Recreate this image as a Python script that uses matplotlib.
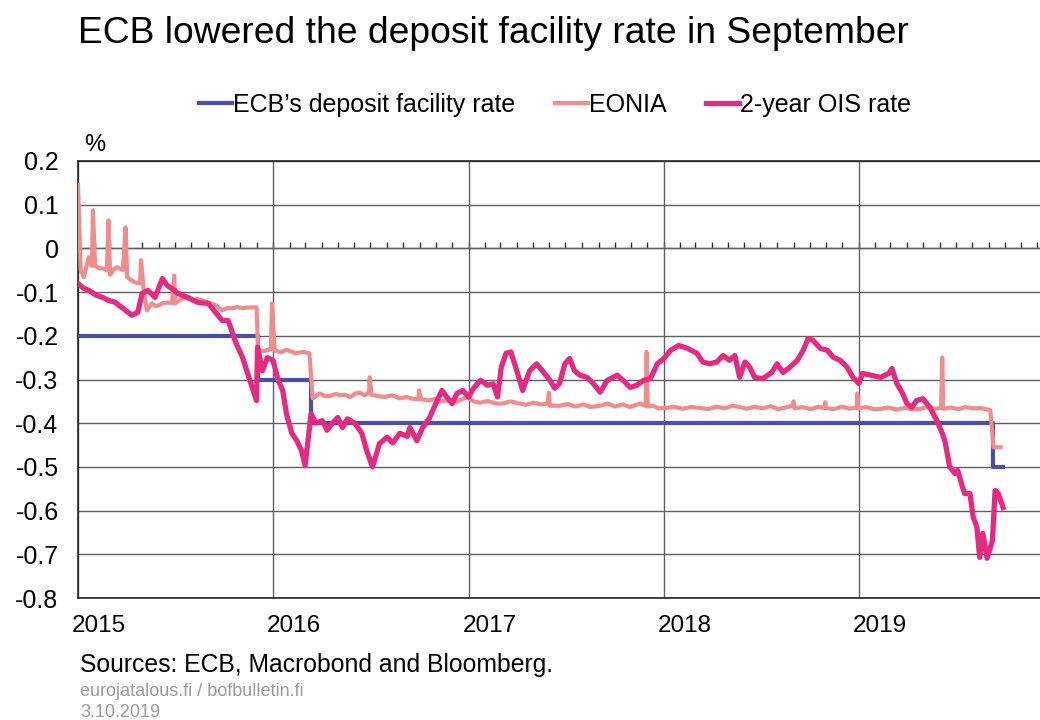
import pandas as pd
import matplotlib
matplotlib.use('Agg')
from matplotlib import pyplot as plt
import matplotlib.dates as mdates
import matplotlib.transforms as mtransforms

plt.rcParams['font.family'] = ['Liberation Sans', 'DejaVu Sans']

# ECB deposit facility rate (step series)
dfr_dates = ['2015-01-01', '2015-12-03', '2016-03-12', '2019-09-09', '2019-09-28']
dfr_values = [-0.20, -0.30, -0.40, -0.50, -0.50]

# EONIA
eonia_dates = [
    '2015-01-01', '2015-01-06', '2015-01-12', '2015-01-21', '2015-01-27', '2015-01-29',
    '2015-02-02', '2015-02-09', '2015-02-16', '2015-02-24', '2015-02-27', '2015-03-02',
    '2015-03-09', '2015-03-15', '2015-03-26', '2015-03-31', '2015-04-03', '2015-04-10',
    '2015-04-18', '2015-04-27', '2015-04-29', '2015-05-04', '2015-05-10', '2015-05-19',
    '2015-05-26', '2015-06-01', '2015-06-09', '2015-06-17', '2015-06-26', '2015-06-30',
    '2015-07-02', '2015-07-10', '2015-07-20', '2015-08-03', '2015-08-12', '2015-08-22',
    '2015-09-01', '2015-09-16', '2015-09-28', '2015-10-08', '2015-10-17', '2015-10-27',
    '2015-11-05', '2015-11-18', '2015-12-01', '2015-12-04', '2015-12-15', '2015-12-28',
    '2015-12-30', '2016-01-04', '2016-01-15', '2016-01-26', '2016-02-02', '2016-02-12',
    '2016-02-26', '2016-03-09', '2016-03-15', '2016-03-28', '2016-04-08', '2016-04-16',
    '2016-04-27', '2016-05-05', '2016-05-14', '2016-05-25', '2016-06-03', '2016-06-11',
    '2016-06-20', '2016-06-28', '2016-06-30', '2016-07-03', '2016-07-15', '2016-07-28',
    '2016-08-10', '2016-08-25', '2016-09-07', '2016-09-20', '2016-09-29', '2016-09-30',
    '2016-10-04', '2016-10-18', '2016-11-01', '2016-11-09', '2016-11-25', '2016-12-08',
    '2016-12-16', '2016-12-29', '2017-01-10', '2017-01-23', '2017-02-06', '2017-02-20',
    '2017-03-06', '2017-03-20', '2017-04-03', '2017-04-18', '2017-05-02', '2017-05-16',
    '2017-05-29', '2017-05-31', '2017-06-02', '2017-06-20', '2017-07-05', '2017-07-20',
    '2017-08-03', '2017-08-17', '2017-09-04', '2017-09-18', '2017-10-02', '2017-10-16',
    '2017-10-30', '2017-11-10', '2017-11-18', '2017-11-28', '2017-11-30', '2017-12-02',
    '2017-12-12', '2017-12-22', '2018-01-05', '2018-01-20', '2018-02-05', '2018-02-20',
    '2018-03-10', '2018-03-25', '2018-04-10', '2018-04-25', '2018-05-10', '2018-05-23',
    '2018-06-05', '2018-06-20', '2018-07-05', '2018-07-20', '2018-08-03', '2018-08-17',
    '2018-08-30', '2018-09-01', '2018-09-03', '2018-09-18', '2018-10-03', '2018-10-18',
    '2018-10-29', '2018-10-30', '2018-11-01', '2018-11-15', '2018-11-30', '2018-12-15',
    '2018-12-28', '2018-12-29', '2018-12-31', '2019-01-15', '2019-01-30', '2019-02-11',
    '2019-02-26', '2019-03-12', '2019-03-27', '2019-04-10', '2019-04-26', '2019-05-10',
    '2019-05-24', '2019-06-04', '2019-06-06', '2019-06-08', '2019-06-22', '2019-07-06',
    '2019-07-20', '2019-08-03', '2019-08-15', '2019-08-27', '2019-09-04', '2019-09-10',
    '2019-09-23',
]
eonia_values = [
    0.144, -0.050, -0.066, -0.020, -0.040, 0.087,
    -0.040, -0.045, -0.046, -0.050, 0.064, -0.060,
    -0.048, -0.043, -0.050, 0.048, -0.066, -0.072,
    -0.078, -0.080, -0.027, -0.096, -0.142, -0.126,
    -0.132, -0.130, -0.125, -0.124, -0.125, -0.062,
    -0.126, -0.118, -0.112, -0.119, -0.116, -0.119,
    -0.124, -0.130, -0.142, -0.136, -0.137, -0.134,
    -0.137, -0.135, -0.135, -0.233, -0.235, -0.230,
    -0.126, -0.233, -0.238, -0.232, -0.235, -0.240,
    -0.237, -0.240, -0.343, -0.332, -0.338, -0.338,
    -0.333, -0.336, -0.335, -0.340, -0.332, -0.330,
    -0.336, -0.330, -0.295, -0.335, -0.338, -0.340,
    -0.336, -0.343, -0.340, -0.345, -0.345, -0.325,
    -0.345, -0.348, -0.344, -0.350, -0.347, -0.352,
    -0.347, -0.340, -0.350, -0.353, -0.349, -0.355,
    -0.355, -0.350, -0.354, -0.358, -0.353, -0.357,
    -0.355, -0.330, -0.360, -0.360, -0.356, -0.362,
    -0.357, -0.363, -0.360, -0.355, -0.362, -0.357,
    -0.363, -0.358, -0.355, -0.360, -0.237, -0.362,
    -0.360, -0.366, -0.365, -0.362, -0.367, -0.363,
    -0.365, -0.368, -0.362, -0.366, -0.360, -0.363,
    -0.367, -0.362, -0.366, -0.361, -0.368, -0.364,
    -0.360, -0.350, -0.366, -0.363, -0.368, -0.362,
    -0.366, -0.352, -0.365, -0.368, -0.362, -0.367,
    -0.364, -0.332, -0.366, -0.363, -0.368, -0.367,
    -0.364, -0.369, -0.365, -0.368, -0.367, -0.363,
    -0.367, -0.365, -0.250, -0.367, -0.364, -0.368,
    -0.363, -0.366, -0.365, -0.368, -0.370, -0.455,
    -0.455,
]

# 2-year OIS rate
ois_dates = [
    '2015-01-01', '2015-01-10', '2015-01-21', '2015-02-04', '2015-02-16', '2015-02-27',
    '2015-03-11', '2015-03-24', '2015-04-12', '2015-04-23', '2015-05-01', '2015-05-12',
    '2015-05-25', '2015-06-08', '2015-06-17', '2015-06-26', '2015-07-07', '2015-07-25',
    '2015-08-14', '2015-09-02', '2015-09-15', '2015-09-28', '2015-10-09', '2015-10-23',
    '2015-11-05', '2015-11-18', '2015-12-01', '2015-12-03', '2015-12-12', '2015-12-21',
    '2016-01-01', '2016-01-10', '2016-01-19', '2016-01-26', '2016-02-05', '2016-02-14',
    '2016-02-23', '2016-03-01', '2016-03-05', '2016-03-12', '2016-03-21', '2016-04-02',
    '2016-04-11', '2016-04-21', '2016-05-01', '2016-05-10', '2016-05-19', '2016-06-02',
    '2016-06-15', '2016-06-24', '2016-07-05', '2016-07-18', '2016-08-01', '2016-08-12',
    '2016-08-25', '2016-09-08', '2016-09-13', '2016-09-26', '2016-10-07', '2016-10-20',
    '2016-11-03', '2016-11-12', '2016-11-21', '2016-12-01', '2016-12-10', '2016-12-21',
    '2017-01-01', '2017-01-10', '2017-01-23', '2017-02-05', '2017-02-16', '2017-02-24',
    '2017-03-03', '2017-03-12', '2017-03-21', '2017-04-01', '2017-04-12', '2017-04-25',
    '2017-05-08', '2017-05-19', '2017-06-02', '2017-06-11', '2017-06-20', '2017-06-30',
    '2017-07-09', '2017-07-18', '2017-07-28', '2017-08-10', '2017-08-22', '2017-09-04',
    '2017-09-17', '2017-10-06', '2017-10-17', '2017-10-30', '2017-11-12', '2017-11-24',
    '2017-12-07', '2017-12-20', '2018-01-01', '2018-01-14', '2018-01-29', '2018-02-15',
    '2018-03-04', '2018-03-15', '2018-03-28', '2018-04-10', '2018-04-22', '2018-05-04',
    '2018-05-14', '2018-05-23', '2018-06-02', '2018-06-11', '2018-06-20', '2018-07-05',
    '2018-07-22', '2018-08-01', '2018-08-12', '2018-08-25', '2018-09-08', '2018-09-19',
    '2018-09-28', '2018-10-07', '2018-10-21', '2018-11-03', '2018-11-14', '2018-11-27',
    '2018-12-10', '2018-12-21', '2019-01-01', '2019-01-08', '2019-01-23', '2019-02-11',
    '2019-02-26', '2019-03-04', '2019-03-13', '2019-03-24', '2019-04-01', '2019-04-10',
    '2019-04-19', '2019-05-01', '2019-05-14', '2019-05-27', '2019-06-06', '2019-06-11',
    '2019-06-20', '2019-06-30', '2019-07-05', '2019-07-12', '2019-07-18', '2019-07-28',
    '2019-08-03', '2019-08-10', '2019-08-15', '2019-08-21', '2019-08-29', '2019-09-08',
    '2019-09-13', '2019-09-19', '2019-09-28',
]
ois_values = [
    -0.080, -0.090, -0.096, -0.107, -0.112, -0.119,
    -0.123, -0.135, -0.153, -0.146, -0.103, -0.096,
    -0.112, -0.069, -0.085, -0.092, -0.103, -0.112,
    -0.124, -0.126, -0.146, -0.165, -0.165, -0.215,
    -0.250, -0.300, -0.348, -0.226, -0.280, -0.250,
    -0.256, -0.300, -0.325, -0.378, -0.423, -0.439,
    -0.462, -0.497, -0.455, -0.378, -0.400, -0.394,
    -0.416, -0.400, -0.387, -0.410, -0.390, -0.400,
    -0.423, -0.462, -0.500, -0.447, -0.432, -0.445,
    -0.423, -0.430, -0.410, -0.440, -0.410, -0.387,
    -0.348, -0.325, -0.340, -0.355, -0.332, -0.325,
    -0.340, -0.320, -0.302, -0.313, -0.310, -0.340,
    -0.272, -0.240, -0.237, -0.280, -0.325, -0.280,
    -0.264, -0.280, -0.302, -0.320, -0.309, -0.264,
    -0.252, -0.280, -0.290, -0.295, -0.309, -0.329,
    -0.302, -0.290, -0.302, -0.318, -0.313, -0.302,
    -0.298, -0.264, -0.252, -0.233, -0.222, -0.229,
    -0.240, -0.260, -0.264, -0.260, -0.245, -0.256,
    -0.245, -0.295, -0.260, -0.272, -0.295, -0.298,
    -0.284, -0.264, -0.284, -0.272, -0.256, -0.233,
    -0.206, -0.210, -0.229, -0.233, -0.249, -0.256,
    -0.272, -0.295, -0.309, -0.286, -0.290, -0.295,
    -0.286, -0.275, -0.309, -0.332, -0.355, -0.364,
    -0.348, -0.344, -0.364, -0.394, -0.423, -0.440,
    -0.500, -0.515, -0.508, -0.538, -0.561, -0.561,
    -0.615, -0.638, -0.707, -0.652, -0.709, -0.668,
    -0.554, -0.561, -0.593,
]

years = ['2015', '2016', '2017', '2018', '2019']
yticks = [0.2, 0.1, 0, -0.1, -0.2, -0.3, -0.4, -0.5, -0.6, -0.7, -0.8]

c_dfr = '#4a4fa6'
c_eonia = '#f08c8c'
c_ois = '#e62a82'
c_grid = '#606060'

fig = plt.figure(figsize=(10.4, 7.2), dpi=100)
ax = fig.add_axes([0.075, 0.1694, 0.925, 0.607])

ax.plot(pd.to_datetime(dfr_dates), dfr_values, color=c_dfr, lw=3, drawstyle='steps-post',
        label='ECB\u2019s deposit facility rate', zorder=3)
ax.plot(pd.to_datetime(eonia_dates), eonia_values, color=c_eonia, lw=3,
        label='EONIA', zorder=4)
ax.plot(pd.to_datetime(ois_dates), ois_values, color=c_ois, lw=3.8,
        label='2-year OIS rate', zorder=5)

ax.set_ylim(-0.8, 0.2)
ax.set_xlim(pd.Timestamp('2015-01-01'), pd.Timestamp('2019-12-06'))

ax.set_yticks(yticks)
ax.set_yticklabels(['0.2', '0.1', '0', '-0.1', '-0.2', '-0.3', '-0.4', '-0.5', '-0.6', '-0.7', '-0.8'])
ax.tick_params(axis='y', length=0, pad=14, labelsize=18)

year_pos = pd.to_datetime([y + '-01-01' for y in years])
ax.set_xticks(year_pos)
ax.set_xticklabels(years)
ax.tick_params(axis='x', length=0, pad=12, labelsize=17.5)
offset = mtransforms.ScaledTranslation(-6 / 100, 0, fig.dpi_scale_trans)
for lab in ax.get_xticklabels():
    lab.set_horizontalalignment('left')
    lab.set_transform(lab.get_transform() + offset)

ax.grid(True, axis='both', color=c_grid, lw=1.0, zorder=0)
ax.set_axisbelow(True)
for s in ['left', 'top', 'bottom']:
    ax.spines[s].set_color('#222222')
    ax.spines[s].set_linewidth(1.2)
ax.spines['right'].set_visible(False)

# monthly ticks on the zero line
sec = ax.secondary_xaxis(0.8)
sec.xaxis.set_major_locator(mdates.MonthLocator())
sec.tick_params(axis='x', which='major', direction='out', length=4, width=1,
                color='#333333', labeltop=False, labelbottom=False)
sec.spines['top'].set_color(c_grid)
sec.spines['top'].set_linewidth(1.0)

fig.text(0.075, 0.954, 'ECB lowered the deposit facility rate in September',
         fontsize=26.8, va='center', ha='left')
fig.text(0.081, 0.799, '%', fontsize=17, va='center', ha='left')

ax.legend(loc='center', bbox_to_anchor=(0.496, 1.128), ncol=3, frameon=False,
          fontsize=18, handlelength=1.3, handletextpad=0.05, columnspacing=1.6)

fig.text(0.077, 0.076, 'Sources: ECB, Macrobond and Bloomberg.', fontsize=17.8,
         va='center', ha='left')
fig.text(0.077, 0.039, 'eurojatalous.fi / bofbulletin.fi', fontsize=13,
         color='#9a9a9a', va='center', ha='left')
fig.text(0.077, 0.011, '3.10.2019', fontsize=13, color='#9a9a9a',
         va='center', ha='left')

fig.savefig('out.png', dpi=100)
